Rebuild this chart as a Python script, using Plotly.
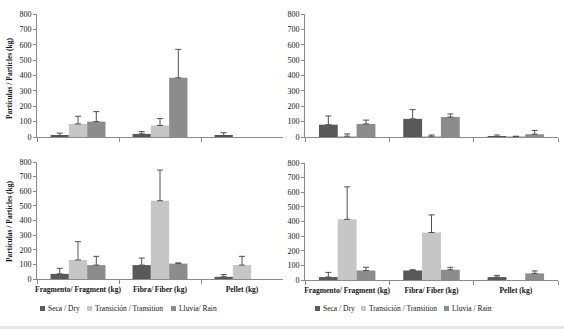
import plotly.graph_objects as go

categories = ["Fragmento/ Fragment (kg)", "Fibra/ Fiber (kg)", "Pellet (kg)"]
series_left = ["Seca / Dry", "Transición / Transition", "Lluvia/ Rain"]
series_right = ["Seca / Dry", "Transición / Transition", "Lluvia / Rain"]
y_title = "Partículas / Particles (kg)"
y_ticks = [0, 100, 200, 300, 400, 500, 600, 700, 800]

# Top-left panel (None = no bar)
tl_dry = [10, 20, 10]
tl_dry_err = [15, 15, 18]
tl_trans = [85, 75, None]
tl_trans_err = [50, 45, 0]
tl_rain = [100, 385, None]
tl_rain_err = [65, 185, 0]

# Top-right panel
tr_dry = [80, 118, 3]
tr_dry_err = [57, 60, 10]
tr_trans = [5, 5, 3]
tr_trans_err = [15, 8, 2]
tr_rain = [85, 130, 18]
tr_rain_err = [25, 20, 25]

# Bottom-left panel
bl_dry = [35, 95, 15]
bl_dry_err = [38, 48, 15]
bl_trans = [130, 535, 95]
bl_trans_err = [125, 210, 60]
bl_rain = [95, 105, None]
bl_rain_err = [60, 5, 0]

# Bottom-right panel
br_dry = [20, 65, 20]
br_dry_err = [32, 5, 12]
br_trans = [415, 325, None]
br_trans_err = [222, 120, 0]
br_rain = [65, 70, 45]
br_rain_err = [22, 17, 17]

colors = ["#595959", "#c6c6c6", "#8c8c8c"]
err_color = "#505050"
FONT = "Liberation Serif"
TXT = "#141414"
W, H = 564, 329

fig = go.Figure()

panels = [
    ("x", "y", [tl_dry, tl_trans, tl_rain], [tl_dry_err, tl_trans_err, tl_rain_err], series_left),
    ("x2", "y2", [tr_dry, tr_trans, tr_rain], [tr_dry_err, tr_trans_err, tr_rain_err], series_right),
    ("x3", "y3", [bl_dry, bl_trans, bl_rain], [bl_dry_err, bl_trans_err, bl_rain_err], series_left),
    ("x4", "y4", [br_dry, br_trans, br_rain], [br_dry_err, br_trans_err, br_rain_err], series_right),
]

for xa, ya, vals, errs, names in panels:
    for i in range(3):
        fig.add_trace(go.Bar(
            x=categories, y=vals[i], name=names[i],
            marker=dict(color=colors[i], line=dict(width=0)),
            error_y=dict(type="data", symmetric=False, array=errs[i],
                         arrayminus=[0] * len(errs[i]),
                         color=err_color, thickness=1, width=3),
            xaxis=xa, yaxis=ya, showlegend=False,
        ))

def px_x(p):
    return p / W

def px_y(p):
    return 1 - p / H

axis_common = dict(showline=True, linecolor="#8a8a8a", linewidth=1,
                   ticks="outside", tickcolor="#8a8a8a", ticklen=4,
                   showgrid=False, zeroline=False)

dom = {
    "x": [px_x(37), px_x(283)], "x2": [px_x(305), px_x(558)],
    "x3": [px_x(37), px_x(283)], "x4": [px_x(305), px_x(558)],
    "y": [px_y(137), px_y(14)], "y2": [px_y(137), px_y(14)],
    "y3": [px_y(279), px_y(162)], "y4": [px_y(280), px_y(163)],
}

layout = dict(
    width=W, height=H,
    paper_bgcolor="white", plot_bgcolor="white",
    margin=dict(l=0, r=0, t=0, b=0),
    barmode="group", bargap=0.33, bargroupgap=0,
    font=dict(family=FONT, size=9, color=TXT),
    showlegend=False,
)

for i, (xa, ya) in enumerate([("x", "y"), ("x2", "y2"), ("x3", "y3"), ("x4", "y4")]):
    xk = "xaxis" if i == 0 else f"xaxis{i+1}"
    yk = "yaxis" if i == 0 else f"yaxis{i+1}"
    layout[xk] = dict(axis_common, domain=dom[xa], anchor=ya, type="category",
                      tickson="boundaries", showticklabels=(i >= 2), tickangle=0,
                      automargin=False, ticklabelstandoff=3,
                      tickfont=dict(family=FONT, size=7.5, color=TXT, weight="bold"))
    layout[yk] = dict(axis_common, domain=dom[ya], anchor=xa, range=[0, 800],
                      tickvals=y_ticks, ticklen=3, automargin=False,
                      tickfont=dict(family=FONT, size=8, color=TXT))

fig.update_layout(**layout)

for yc in [px_y(78), px_y(221)]:
    fig.add_annotation(text="<b>" + y_title + "</b>", x=px_x(10), y=yc, xref="paper", yref="paper",
                       textangle=-90, showarrow=False, xanchor="center", yanchor="middle",
                       font=dict(family=FONT, size=7.5, color=TXT))

# Legends: small coloured squares (shapes) + text labels
legend_rows = [(series_left, [40, 87, 171]), (series_right, [315, 361, 444])]
ly = 308
for names, xs in legend_rows:
    for name, col, xp in zip(names, colors, xs):
        fig.add_shape(type="rect", xref="paper", yref="paper",
                      x0=px_x(xp), x1=px_x(xp + 5), y0=px_y(ly + 3), y1=px_y(ly - 2),
                      fillcolor=col, line=dict(width=0))
        fig.add_annotation(
            text=name, x=px_x(xp + 6), y=px_y(ly), xref="paper", yref="paper",
            showarrow=False, xanchor="left", yanchor="middle",
            font=dict(family=FONT, size=7.5, color=TXT))

fig.add_shape(type="rect", xref="paper", yref="paper", x0=0, x1=1, y0=0, y1=px_y(326),
              fillcolor="#e6e6e6", line=dict(width=0), layer="below")

fig.write_html("out.html", config={"displayModeBar": False},
               post_script="document.body.style.margin='0';")
